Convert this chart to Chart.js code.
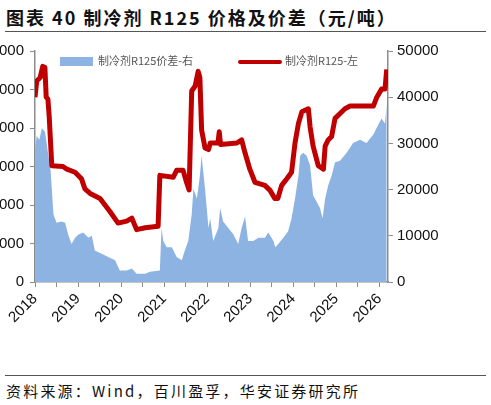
<!DOCTYPE html>
<html>
<head>
<meta charset="utf-8">
<script src="https://cdn.jsdelivr.net/npm/chart.js@4/dist/chart.umd.min.js"></script>
<style>
  html, body { margin: 0; padding: 0; background: #fff; }
  body { width: 491px; height: 405px; position: relative; overflow: hidden; }
  .title {
    position: absolute; left: 6px; top: 4px; letter-spacing: 2px;
    font: 700 18px "Noto Sans CJK SC", sans-serif; color: #111; white-space: nowrap;
  }
  .rule { position: absolute; left: 5px; width: 481px; height: 0; border-top: 1.5px solid #555; }
  .source {
    position: absolute; left: 6px; top: 380px;
    font: 400 15px "Noto Sans CJK SC", sans-serif; color: #111; letter-spacing: 2.2px; white-space: nowrap;
  }
  #wrap { position: absolute; left: -20px; top: 36px; width: 511px; height: 339px; }
  .legend { position: absolute; top: 52px; font: 400 11px "Noto Sans CJK SC", sans-serif; color: #555; white-space: nowrap; }
  .swatch { position: absolute; }
</style>
</head>
<body>
<div class="title">图表 40 制冷剂 R125 价格及价差（元/吨）</div>
<div class="rule" style="top:31px"></div>
<div id="wrap"><canvas id="chart" width="511" height="339"></canvas></div>
<div class="swatch" style="left:60px;top:57px;width:33px;height:9px;background:#8DB3E2"></div>
<div class="legend" style="left:98px">制冷剂R125价差-右</div>
<div class="swatch" style="left:238px;top:60px;width:44px;height:4px;background:#C00000;border-radius:2px"></div>
<div class="legend" style="left:285px">制冷剂R125-左</div>
<div class="rule" style="top:375px"></div>
<div class="source">资料来源：Wind，百川盈孚，华安证券研究所</div>

<script>
// R125 price (left axis), x = decimal year
const priceX = [2018.00, 2018.04, 2018.12, 2018.18, 2018.23, 2018.26, 2018.30, 2018.33, 2018.39, 2018.65,
  2018.74, 2018.93, 2019.08, 2019.16, 2019.28, 2019.51, 2019.74, 2019.93, 2020.13, 2020.25,
  2020.36, 2020.56, 2020.86, 2020.90, 2021.21, 2021.29, 2021.44, 2021.52, 2021.58, 2021.64,
  2021.72, 2021.79, 2021.83, 2021.87, 2021.95, 2022.03, 2022.07, 2022.25, 2022.28, 2022.31,
  2022.69, 2022.80, 2022.88, 2022.99, 2023.11, 2023.34, 2023.46, 2023.57, 2023.64, 2023.73,
  2023.85, 2023.96, 2024.04, 2024.12, 2024.20, 2024.35, 2024.39, 2024.46, 2024.58, 2024.70,
  2024.74, 2024.81, 2024.89, 2024.97, 2025.08, 2025.20, 2025.32, 2025.86, 2025.94, 2026.05,
  2026.13, 2026.17];
const priceY = [48000, 52200, 53100, 56000, 55700, 48000, 47500, 43000, 30200, 30000,
  29300, 28500, 26800, 24200, 23000, 21700, 18300, 15300, 15800, 16600,
  13600, 14100, 14500, 27700, 27200, 29000, 29000, 25900, 23900, 49600,
  50900, 54700, 53100, 39500, 34800, 34400, 36100, 36100, 39000, 35700,
  36100, 36900, 33500, 29300, 25900, 25100, 23800, 21700, 21700, 25100,
  26800, 28500, 36100, 41200, 44200, 45000, 40300, 35300, 30200, 29300,
  35300, 36900, 37800, 42500, 43700, 45000, 45700, 45700, 48000, 50100,
  50100, 55200];

// R125 spread (right axis)
const spreadX = [2018.00, 2018.04, 2018.10, 2018.16, 2018.23, 2018.27, 2018.31, 2018.36, 2018.43, 2018.50,
  2018.62, 2018.70, 2018.77, 2018.85, 2018.93, 2019.01, 2019.12, 2019.24, 2019.32, 2019.39,
  2019.55, 2019.70, 2019.86, 2019.97, 2020.13, 2020.25, 2020.36, 2020.56, 2020.67, 2020.90,
  2020.94, 2020.98, 2021.06, 2021.18, 2021.29, 2021.41, 2021.48, 2021.56, 2021.64, 2021.68,
  2021.76, 2021.83, 2021.87, 2021.95, 2022.03, 2022.07, 2022.14, 2022.26, 2022.30, 2022.37,
  2022.49, 2022.61, 2022.72, 2022.80, 2022.88, 2022.95, 2023.07, 2023.19, 2023.34, 2023.42,
  2023.54, 2023.58, 2023.65, 2023.77, 2023.88, 2023.96, 2024.04, 2024.12, 2024.16, 2024.23,
  2024.31, 2024.39, 2024.46, 2024.54, 2024.62, 2024.68, 2024.74, 2024.81, 2024.89, 2024.97,
  2025.08, 2025.24, 2025.39, 2025.55, 2025.70, 2025.86, 2025.97, 2026.05, 2026.13, 2026.17];
const spreadY = [28700, 31600, 30800, 33300, 32600, 30100, 27300, 24400, 14600, 12800,
  13100, 12800, 10300, 8200, 9600, 10300, 10700, 9600, 10000, 6800,
  6100, 5400, 4700, 2500, 2500, 2900, 1800, 1800, 2200, 2500,
  11700, 8900, 7500, 7500, 5400, 4700, 6800, 8900, 14600, 20200,
  18100, 23000, 27300, 20200, 11700, 13800, 8900, 11700, 16000, 13100,
  11700, 10300, 8200, 11700, 14200, 8900, 8900, 9600, 9600, 10700,
  8900, 7500, 8200, 9600, 11000, 13800, 18100, 23000, 27300, 28000,
  27300, 25200, 18800, 17400, 16000, 13800, 18100, 20900, 23000, 25900,
  26200, 28000, 30100, 30800, 30100, 31900, 34000, 35400, 34300, 38600];

// x-axis tick marks (half years), labels on whole years
const xTicks = [2018, 2018.5, 2019, 2019.5, 2020, 2020.5, 2021, 2021.5, 2022, 2022.5,
  2023, 2023.5, 2024, 2024.5, 2025, 2025.5, 2026];
const yearMin = 2018, yearMax = 2026.2;
const leftMax = 60000, rightMax = 50000;

const toPts = (xs, ys) => xs.map((x, i) => ({ x: x, y: ys[i] }));
const axisGray = '#8c8c8c';
const tickFont = { family: 'Liberation Sans, Arial, sans-serif', size: 15 };
const plain = v => String(v);

new Chart(document.getElementById('chart'), {
  type: 'line',
  data: {
    datasets: [
      {
        label: '制冷剂R125-左',
        data: toPts(priceX, priceY),
        yAxisID: 'y',
        borderColor: '#C00000',
        borderWidth: 5,
        pointRadius: 0,
        fill: false,
        tension: 0,
        borderJoinStyle: 'round',
        order: 0
      },
      {
        label: '制冷剂R125价差-右',
        data: toPts(spreadX, spreadY),
        yAxisID: 'y1',
        borderWidth: 0,
        borderColor: 'rgba(0,0,0,0)',
        backgroundColor: '#8DB3E2',
        pointRadius: 0,
        fill: 'origin',
        tension: 0,
        order: 1
      }
    ]
  },
  options: {
    animation: false,
    responsive: false,
    layout: { padding: { top: 10, left: 0, right: 0, bottom: 0 } },
    plugins: { legend: { display: false }, tooltip: { enabled: false } },
    scales: {
      x: {
        type: 'linear',
        min: yearMin,
        max: yearMax,
        afterBuildTicks: s => { s.ticks = xTicks.map(v => ({ value: v })); },
        afterFit: s => { s.height = 93; },
        ticks: {
          autoSkip: false,
          minRotation: 45,
          maxRotation: 45,
          color: '#111',
          font: tickFont,
          callback: v => (Number.isInteger(v) ? String(v) : '')
        },
        grid: { drawOnChartArea: false, drawTicks: true, tickLength: 5, color: axisGray },
        border: { color: axisGray, width: 1.5 }
      },
      y: {
        position: 'left',
        min: 0,
        max: leftMax,
        afterFit: s => { s.width = 55; },
        ticks: { stepSize: 10000, color: '#111', font: tickFont, padding: 6, callback: plain },
        grid: { drawOnChartArea: false, tickLength: 5, color: axisGray },
        border: { color: axisGray, width: 1.5 }
      },
      y1: {
        position: 'right',
        min: 0,
        max: rightMax,
        afterFit: s => { s.width = 103; },
        ticks: { stepSize: 10000, color: '#111', font: tickFont, padding: 4, callback: plain },
        grid: { drawOnChartArea: false, tickLength: 5, color: axisGray },
        border: { color: axisGray, width: 1.5 }
      }
    }
  }
});
</script>
</body>
</html>
